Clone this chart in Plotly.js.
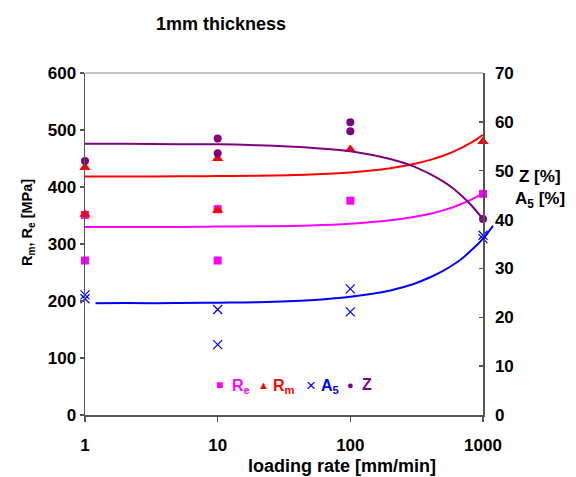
<!DOCTYPE html>
<html>
<head>
<meta charset="utf-8">
<script src="https://cdn.plot.ly/plotly-3.0.1.min.js"></script>
<style>html,body{margin:0;padding:0;background:#fff;}#chart{width:576px;height:477px;}</style>
</head>
<body>
<div id="chart"></div>
<script>
// ---- data ----
const rateRe = [1, 1, 10, 10, 100, 1000];
const valRe  = [351, 271, 361, 271, 376, 388];
const rateRm = [1, 1, 10, 10, 100, 1000];
const valRm  = [434, 352, 450, 359, 466, 480];
const rateA5 = [1, 1, 10, 10, 100, 100, 1000, 1000];
const valA5  = [24.6, 23.8, 21.6, 14.4, 25.8, 21.1, 36.8, 36.1];
const rateZ  = [1, 10, 10, 100, 100, 1000];
const valZ   = [52.0, 56.6, 53.6, 59.9, 58.1, 40.1];

// trend lines
const trendRate   = [1, 2, 5, 10, 20, 50, 100, 200, 300, 400, 500, 600, 700, 800, 900, 1000];
const trendRm     = [418.4, 418.5, 418.7, 419.1, 419.8, 422, 425.6, 433, 440.3, 447.6, 454.9, 462.2, 469.5, 476.8, 484.1, 491.4];
const trendRe     = [330, 330, 330, 330.5, 331, 332.5, 335.5, 341.5, 347.5, 353, 359, 365, 371, 377, 383, 388.5];
const trendZ      = [55.5, 55.5, 55.4, 55.4, 55.2, 54.7, 54, 52.4, 50.9, 49.3, 47.8, 46.3, 44.7, 43.2, 41.6, 40.1];
const trendRateA5 = [1.2, 2, 5, 10, 20, 50, 100, 200, 300, 400, 500, 600, 700, 800, 900, 1000, 1100, 1190];
const trendA5     = [22.85, 22.9, 22.9, 23, 23.1, 23.5, 24.2, 25.5, 26.8, 28.2, 29.5, 30.8, 32.1, 33.5, 34.8, 36.1, 37.5, 38.7];

const xTicks = [1, 10, 100, 1000];
const xTickText = ['1', '10', '100', '1000'];

// ---- styling ----
const C_RE = '#FF00FF', C_RM = '#FF0000', C_A5 = '#0000FF', C_Z = '#800080';
const FONT = 'Arial, "Liberation Sans", sans-serif';
const AX = '#555555';

const L = 85, T = 73, PW = 410, PH = 342; // plot area in px (right edge of subplot region)
const xDom = 398 / PW;
const px = x => (x - L) / PW;
const py = y => (T + PH - y) / PH;

const traces = [
  {x: trendRate, y: trendRm, mode: 'lines', line: {color: C_RM, width: 2, shape: 'spline'}, showlegend: false, hoverinfo: 'skip'},
  {x: trendRate, y: trendRe, mode: 'lines', line: {color: C_RE, width: 2, shape: 'spline'}, showlegend: false, hoverinfo: 'skip'},
  {x: trendRate, y: trendZ, yaxis: 'y2', mode: 'lines', line: {color: C_Z, width: 2, shape: 'spline'}, showlegend: false, hoverinfo: 'skip'},
  {x: rateRe, y: valRe, mode: 'markers', name: 'Re', cliponaxis: false,
   marker: {symbol: 'square', size: 8, color: C_RE}},
  {x: rateRm, y: valRm, mode: 'markers', name: 'Rm', cliponaxis: false,
   marker: {symbol: 'triangle-up', size: 10, color: C_RM}},
  {x: rateA5, y: valA5, yaxis: 'y2', mode: 'markers', name: 'A5', cliponaxis: false,
   marker: {symbol: 'x-thin-open', size: 9, color: C_A5, line: {color: C_A5, width: 1.2}}},
  {x: rateZ, y: valZ, yaxis: 'y2', mode: 'markers', name: 'Z', cliponaxis: false,
   marker: {symbol: 'circle', size: 8, color: C_Z}},
  {x: trendRateA5, y: trendA5, xaxis: 'x3', yaxis: 'y3', mode: 'lines', line: {color: C_A5, width: 2, shape: 'spline'}, showlegend: false, hoverinfo: 'skip'}
];

const tickFont = {family: FONT, size: 17, color: '#000', weight: 'bold'};

const ann = (text, x, y, opts) => Object.assign({
  text: text, xref: 'paper', yref: 'paper', x: px(x), y: py(y),
  xanchor: 'center', yanchor: 'middle', showarrow: false,
  font: {family: FONT, size: 16, color: '#000', weight: 'bold'}
}, opts || {});

const layout = {
  width: 576, height: 477,
  margin: {l: L, r: 576 - L - PW, t: T, b: 477 - T - PH},
  paper_bgcolor: '#fff', plot_bgcolor: 'rgba(0,0,0,0)',
  showlegend: false,
  xaxis: {type: 'log', range: [0, 3], domain: [0, xDom], tickvals: xTicks, ticktext: xTickText,
    ticks: 'outside', ticklen: 5, tickcolor: AX, tickwidth: 1.5, showline: true, linecolor: AX, linewidth: 1.5,
    showgrid: false, zeroline: false, tickfont: tickFont, ticklabelstandoff: 9},
  yaxis: {range: [0, 600], dtick: 100, ticks: 'outside', ticklen: 4, tickcolor: AX, tickwidth: 1.5,
    showline: true, linecolor: AX, linewidth: 1.5, showgrid: false, zeroline: false, tickfont: tickFont},
  yaxis2: {range: [0, 70], dtick: 10, overlaying: 'y', side: 'right', anchor: 'x', ticks: 'inside', ticklen: 4,
    tickcolor: AX, tickwidth: 1.5, showline: true, linecolor: AX, linewidth: 1.5, showgrid: false, zeroline: false,
    tickfont: tickFont, ticklabelstandoff: 7},
  xaxis3: {type: 'log', domain: [0, 1], range: [0, 3 / xDom], anchor: 'y3', visible: false},
  yaxis3: {domain: [0, 1], range: [0, 70], anchor: 'x3', visible: false},
  shapes: [
    {type: 'line', xref: 'paper', yref: 'paper', x0: 0, x1: xDom, y0: 1, y1: 1, line: {color: '#888', width: 1}}
  ],
  annotations: [
    ann('1mm thickness', 221, 24, {font: {family: FONT, size: 18, color: '#000', weight: 'bold'}}),
    ann('loading rate [mm/min]', 342, 466, {font: {family: FONT, size: 18, color: '#000', weight: 'bold'}}),
    ann('R<sub>m</sub>, R<sub>e</sub> [MPa]', 28, 222, {textangle: -90, font: {family: FONT, size: 14.5, color: '#000', weight: 'bold'}}),
    ann('Z [%]', 540, 176, {font: {family: FONT, size: 17, color: '#000', weight: 'bold'}}),
    ann('A<sub>5</sub> [%]', 540, 200, {font: {family: FONT, size: 17, color: '#000', weight: 'bold'}}),
    // legend
    ann('■', 219, 385, {font: {family: FONT, size: 12, color: C_RE}}),
    ann('R<sub>e</sub>', 230, 386, {xanchor: 'left', font: {family: FONT, size: 16, color: C_RE, weight: 'bold'}}),
    ann('▲', 263.5, 385, {font: {family: FONT, size: 11, color: C_RM}}),
    ann('R<sub>m</sub>', 271, 386, {xanchor: 'left', font: {family: FONT, size: 16, color: C_RM, weight: 'bold'}}),
    ann('×', 311, 385, {font: {family: FONT, size: 17, color: C_A5}}),
    ann('A<sub>5</sub>', 319, 386, {xanchor: 'left', font: {family: FONT, size: 16, color: C_A5, weight: 'bold'}}),
    ann('●', 350.5, 385, {font: {family: FONT, size: 11, color: C_Z}}),
    ann('Z', 360, 384, {xanchor: 'left', font: {family: FONT, size: 16, color: C_Z, weight: 'bold'}})
  ]
};

Plotly.newPlot('chart', traces, layout, {displayModeBar: false, staticPlot: true});
</script>
</body>
</html>
